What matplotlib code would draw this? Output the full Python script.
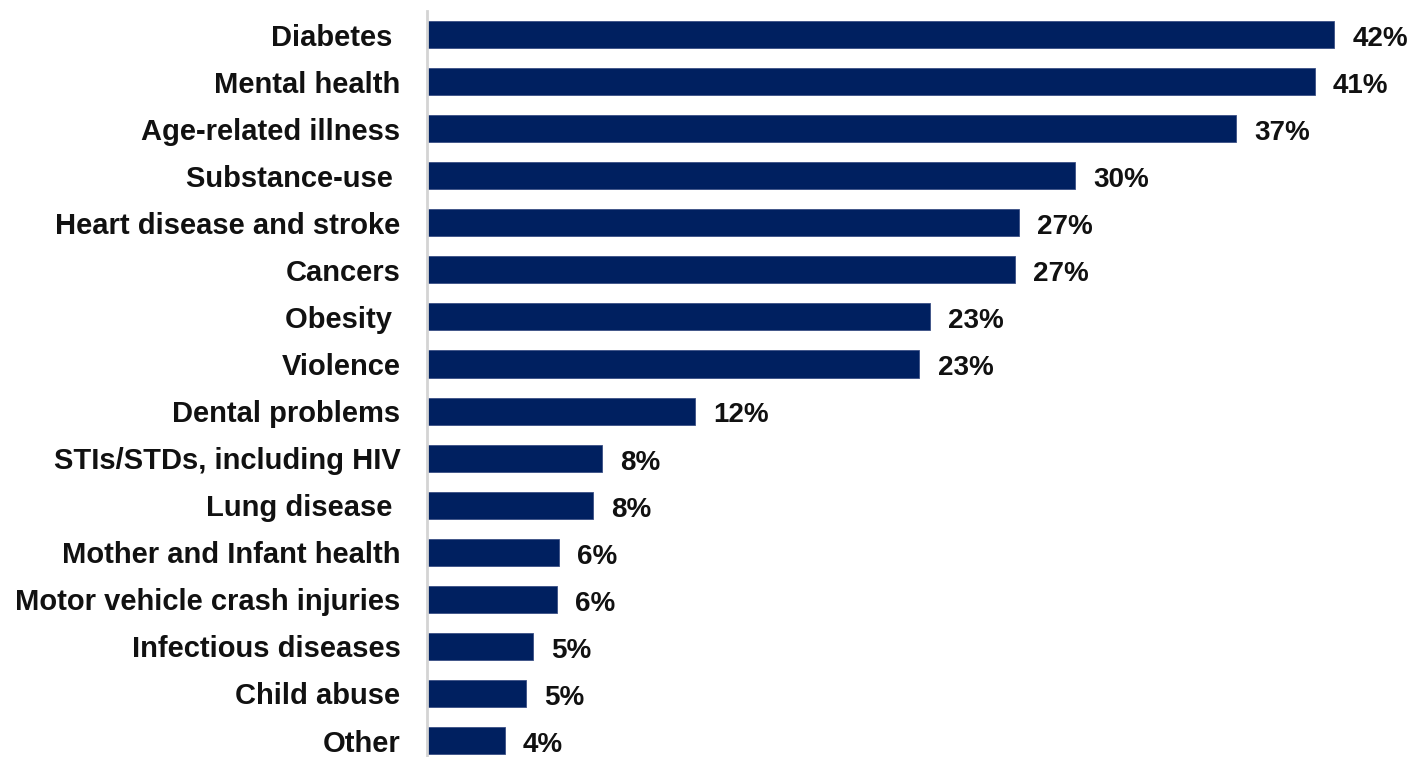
import matplotlib.pyplot as plt
import numpy as np

# health issues ranked by share of respondents (%)
categories = [
    'Diabetes ', 'Mental health', 'Age-related illness', 'Substance-use ',
    'Heart disease and stroke', 'Cancers', 'Obesity ', 'Violence',
    'Dental problems', 'STIs/STDs, including HIV', 'Lung disease ',
    'Mother and Infant health', 'Motor vehicle crash injuries',
    'Infectious diseases', 'Child abuse', 'Other',
]
values = [42.0, 41.1, 37.45, 30.0, 27.4, 27.2, 23.3, 22.8,
          12.4, 8.1, 7.7, 6.1, 6.0, 4.9, 4.6, 3.6]

bar_color = '#002060'

plt.rcParams['font.family'] = ['Liberation Sans', 'DejaVu Sans']
plt.rcParams['font.weight'] = 'bold'

fig = plt.figure(figsize=(14.11, 7.57), dpi=100)
ax = fig.add_axes([427 / 1411, 0.0, 984 / 1411, 746 / 757])

y_pos = np.arange(len(categories))
bars = ax.barh(y_pos, values, height=0.574, color=bar_color,
               edgecolor='#3a4f85', linewidth=0.6)

# value labels to the right of each bar
for bar, v in zip(bars, values):
    ax.annotate(f'{v:.0f}%', xy=(bar.get_width(), bar.get_y() + bar.get_height() / 2),
                xytext=(13, -1), textcoords='offset points', va='center_baseline',
                ha='left', fontsize=20, fontweight='bold', color='#111111')

ax.set_yticks(y_pos)
ax.set_yticklabels(categories, fontsize=21, fontweight='bold', color='#111111')
ax.tick_params(axis='y', length=0, pad=19)
ax.set_xticks([])
ax.set_xlim(0, 984 / 21.6)
ax.set_ylim(15.35, -0.5)

for side in ['top', 'right', 'bottom']:
    ax.spines[side].set_visible(False)
ax.spines['left'].set_color('#d4d4d4')
ax.spines['left'].set_linewidth(2)

fig.savefig('out.png', dpi=100)
